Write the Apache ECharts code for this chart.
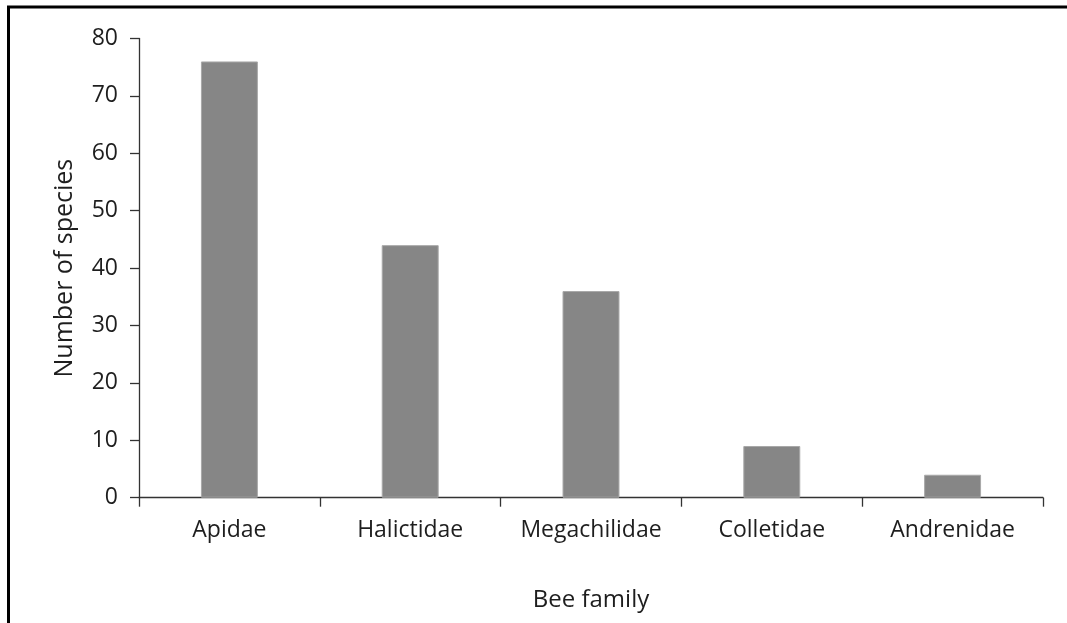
<!DOCTYPE html>
<html>
<head>
<meta charset="utf-8">
<script src="https://cdn.jsdelivr.net/npm/echarts@6/dist/echarts.min.js"></script>
<style>
  html, body { margin: 0; padding: 0; background: #ffffff; }
  #chart { width: 1067px; height: 623px; }
</style>
</head>
<body>
<div id="chart"></div>
<script>
// Bee families and the number of species recorded in each
const families = ['Apidae', 'Halictidae', 'Megachilidae', 'Colletidae', 'Andrenidae'];
const speciesCounts = [76, 44, 36, 9, 4];
const yTicks = { min: 0, max: 80, interval: 10 };

const FONT = '"Open Sans", sans-serif';
const TEXT = '#1e1e1e';
const AXIS = '#333333';

const chart = echarts.init(document.getElementById('chart'), null, { renderer: 'canvas' });

chart.setOption({
  animation: false,
  backgroundColor: '#ffffff',
  textStyle: { fontFamily: FONT, color: TEXT },
  graphic: [{
    type: 'rect',
    shape: { x: 8.5, y: 7, width: 1200, height: 800 },
    style: { fill: 'none', stroke: '#000000', lineWidth: 3 },
    silent: true
  }],
  grid: { left: 139, right: 24, top: 38.5, bottom: 125.3, containLabel: false },
  xAxis: {
    type: 'category',
    data: families,
    boundaryGap: true,
    name: 'Bee family',
    nameLocation: 'middle',
    nameGap: 90,
    nameTextStyle: { fontFamily: FONT, fontSize: 24, color: TEXT },
    axisLine: { show: true, lineStyle: { color: AXIS, width: 1.3 } },
    axisTick: { show: true, length: 9, inside: false, alignWithLabel: false, lineStyle: { color: AXIS, width: 1.3 } },
    axisLabel: { fontFamily: FONT, fontSize: 23, color: TEXT, margin: 21, interval: 0 },
    splitLine: { show: false }
  },
  yAxis: {
    type: 'value',
    min: yTicks.min,
    max: yTicks.max,
    interval: yTicks.interval,
    name: 'Number of species',
    nameLocation: 'middle',
    nameGap: 62,
    nameRotate: 90,
    nameTextStyle: { fontFamily: FONT, fontSize: 25, color: TEXT },
    axisLine: { show: true, lineStyle: { color: AXIS, width: 1.3 } },
    axisTick: { show: true, length: 9, inside: false, lineStyle: { color: AXIS, width: 1.3 } },
    axisLabel: { fontFamily: FONT, fontSize: 23, color: TEXT, margin: 21 },
    splitLine: { show: false }
  },
  series: [{
    type: 'bar',
    data: speciesCounts,
    barWidth: '31.5%',
    itemStyle: { color: '#868686', borderColor: '#a8a8a8', borderWidth: 1 }
  }]
});
</script>
</body>
</html>
